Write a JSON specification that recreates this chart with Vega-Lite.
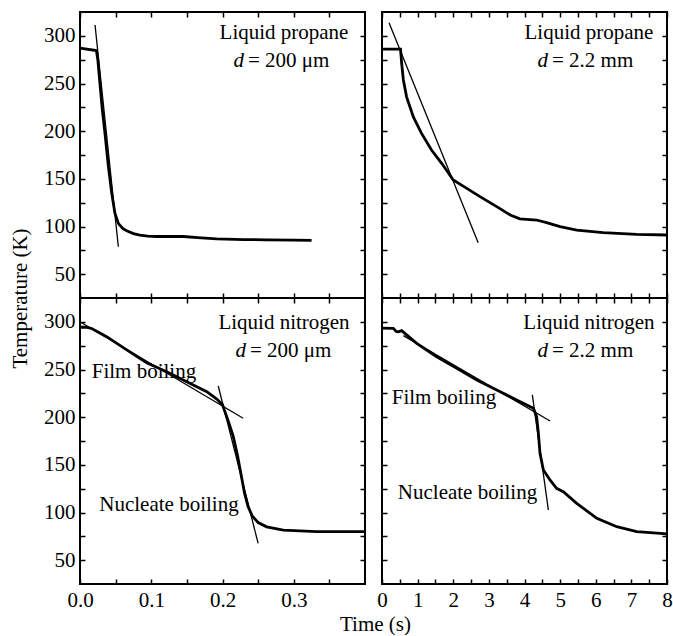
{
  "$schema": "https://vega.github.io/schema/vega-lite/v6.json",
  "padding": {"left": 8, "top": 10, "right": 0, "bottom": 0},
  "background": "white",
  "config": {
    "view": {"stroke": "black", "strokeWidth": 2},
    "axis": {
      "domain": false, "grid": false, "ticks": true, "tickSize": -5, "tickWidth": 1.5, "tickColor": "black",
      "labelFont": "Liberation Serif", "labelFontSize": 21, "labelColor": "black", "labelPadding": 10,
      "labelFlush": false, "labelOverlap": false,
      "titleFont": "Liberation Serif", "titleFontSize": 21, "titleFontWeight": "normal", "titleColor": "black"
    }
  },
  "datasets": {
    "curves": [
      {"p":"TL","s":"data","time":0,"temp":287},
      {"p":"TL","s":"data","time":0.023,"temp":284.5},
      {"p":"TL","s":"data","time":0.025,"temp":275},
      {"p":"TL","s":"data","time":0.028,"temp":250},
      {"p":"TL","s":"data","time":0.031,"temp":225},
      {"p":"TL","s":"data","time":0.035,"temp":198},
      {"p":"TL","s":"data","time":0.0398,"temp":163},
      {"p":"TL","s":"data","time":0.0445,"temp":135},
      {"p":"TL","s":"data","time":0.049,"temp":114},
      {"p":"TL","s":"data","time":0.054,"temp":103},
      {"p":"TL","s":"data","time":0.06,"temp":98},
      {"p":"TL","s":"data","time":0.0655,"temp":95.5},
      {"p":"TL","s":"data","time":0.075,"temp":92.5},
      {"p":"TL","s":"data","time":0.084,"temp":91},
      {"p":"TL","s":"data","time":0.095,"temp":90},
      {"p":"TL","s":"data","time":0.1076,"temp":89.5},
      {"p":"TL","s":"data","time":0.125,"temp":89.5},
      {"p":"TL","s":"data","time":0.145,"temp":89.5},
      {"p":"TL","s":"data","time":0.17,"temp":88},
      {"p":"TL","s":"data","time":0.192,"temp":87},
      {"p":"TL","s":"data","time":0.23,"temp":86.3},
      {"p":"TL","s":"data","time":0.262,"temp":86},
      {"p":"TL","s":"data","time":0.3,"temp":85.7},
      {"p":"TL","s":"data","time":0.325,"temp":85.5},
      {"p":"TL","s":"fit1","time":0.0211,"temp":311.4},
      {"p":"TL","s":"fit1","time":0.0538,"temp":78.8},

      {"p":"TR","s":"data","time":0,"temp":286},
      {"p":"TR","s":"data","time":0.52,"temp":286},
      {"p":"TR","s":"data","time":0.55,"temp":272},
      {"p":"TR","s":"data","time":0.6,"temp":253.7},
      {"p":"TR","s":"data","time":0.69,"temp":236},
      {"p":"TR","s":"data","time":0.88,"temp":215},
      {"p":"TR","s":"data","time":1.11,"temp":197.7},
      {"p":"TR","s":"data","time":1.39,"temp":180.2},
      {"p":"TR","s":"data","time":1.675,"temp":166.3},
      {"p":"TR","s":"data","time":2.0,"temp":148.8},
      {"p":"TR","s":"data","time":2.38,"temp":140},
      {"p":"TR","s":"data","time":2.75,"temp":131.3},
      {"p":"TR","s":"data","time":3.22,"temp":120.8},
      {"p":"TR","s":"data","time":3.6,"temp":112},
      {"p":"TR","s":"data","time":3.87,"temp":108},
      {"p":"TR","s":"data","time":4.34,"temp":106.8},
      {"p":"TR","s":"data","time":4.62,"temp":104},
      {"p":"TR","s":"data","time":5.0,"temp":99.8},
      {"p":"TR","s":"data","time":5.465,"temp":96.3},
      {"p":"TR","s":"data","time":6.21,"temp":93.5},
      {"p":"TR","s":"data","time":7.15,"temp":91.8},
      {"p":"TR","s":"data","time":8.0,"temp":91.1},
      {"p":"TR","s":"fit1","time":0.197,"temp":313.8},
      {"p":"TR","s":"fit1","time":2.7,"temp":83},

      {"p":"BL","s":"data","time":0,"temp":294.3},
      {"p":"BL","s":"data","time":0.008,"temp":294.5},
      {"p":"BL","s":"data","time":0.0164,"temp":293},
      {"p":"BL","s":"data","time":0.0374,"temp":284.4},
      {"p":"BL","s":"data","time":0.0655,"temp":270.5},
      {"p":"BL","s":"data","time":0.0936,"temp":257.1},
      {"p":"BL","s":"data","time":0.1216,"temp":247.7},
      {"p":"BL","s":"data","time":0.1497,"temp":237.2},
      {"p":"BL","s":"data","time":0.178,"temp":226.7},
      {"p":"BL","s":"data","time":0.192,"temp":219},
      {"p":"BL","s":"data","time":0.2,"temp":213},
      {"p":"BL","s":"data","time":0.208,"temp":196},
      {"p":"BL","s":"data","time":0.215,"temp":180},
      {"p":"BL","s":"data","time":0.221,"temp":160},
      {"p":"BL","s":"data","time":0.2265,"temp":138},
      {"p":"BL","s":"data","time":0.231,"temp":120},
      {"p":"BL","s":"data","time":0.236,"temp":106},
      {"p":"BL","s":"data","time":0.242,"temp":96},
      {"p":"BL","s":"data","time":0.25,"temp":89.5},
      {"p":"BL","s":"data","time":0.262,"temp":85},
      {"p":"BL","s":"data","time":0.2853,"temp":81.6},
      {"p":"BL","s":"data","time":0.332,"temp":79.9},
      {"p":"BL","s":"data","time":0.4,"temp":79.9},
      {"p":"BL","s":"fit1","time":0.0023,"temp":299.1},
      {"p":"BL","s":"fit1","time":0.229,"temp":198.8},
      {"p":"BL","s":"fit2","time":0.194,"temp":232.7},
      {"p":"BL","s":"fit2","time":0.25,"temp":67.7},

      {"p":"BR","s":"data","time":0,"temp":293.5},
      {"p":"BR","s":"data","time":0.317,"temp":293.2},
      {"p":"BR","s":"data","time":0.4,"temp":290},
      {"p":"BR","s":"data","time":0.458,"temp":289.5},
      {"p":"BR","s":"data","time":0.553,"temp":290.7},
      {"p":"BR","s":"data","time":0.7,"temp":286},
      {"p":"BR","s":"data","time":0.974,"temp":277.4},
      {"p":"BR","s":"data","time":1.535,"temp":263.4},
      {"p":"BR","s":"data","time":2.1,"temp":251.2},
      {"p":"BR","s":"data","time":2.66,"temp":239},
      {"p":"BR","s":"data","time":3.22,"temp":228.5},
      {"p":"BR","s":"data","time":3.78,"temp":218},
      {"p":"BR","s":"data","time":4.25,"temp":209.3},
      {"p":"BR","s":"data","time":4.34,"temp":200.5},
      {"p":"BR","s":"data","time":4.39,"temp":183},
      {"p":"BR","s":"data","time":4.435,"temp":162.1},
      {"p":"BR","s":"data","time":4.53,"temp":144.6},
      {"p":"BR","s":"data","time":4.716,"temp":134.1},
      {"p":"BR","s":"data","time":4.9,"temp":125.4},
      {"p":"BR","s":"data","time":5.09,"temp":121.8},
      {"p":"BR","s":"data","time":5.465,"temp":109.6},
      {"p":"BR","s":"data","time":6.03,"temp":93.9},
      {"p":"BR","s":"data","time":6.59,"temp":85.1},
      {"p":"BR","s":"data","time":7.15,"temp":79.9},
      {"p":"BR","s":"data","time":8.0,"temp":77.5},
      {"p":"BR","s":"fit1","time":0.6,"temp":285.5},
      {"p":"BR","s":"fit1","time":4.72,"temp":196},
      {"p":"BR","s":"fit2","time":4.22,"temp":223.3},
      {"p":"BR","s":"fit2","time":4.67,"temp":102.6}
    ],
    "labels": [
      {"p":"TL","kind":"plain","text":"Liquid propane","time":0.2863,"temp":296.7},
      {"p":"TL","kind":"d","text":"d","time":0.2302,"temp":267.3},
      {"p":"TL","kind":"rest","text":"= 200 μm","time":0.2302,"temp":267.3},
      {"p":"TR","kind":"plain","text":"Liquid propane","time":5.81,"temp":296.7},
      {"p":"TR","kind":"d","text":"d","time":4.66,"temp":267.3},
      {"p":"TR","kind":"rest","text":"= 2.2 mm","time":4.66,"temp":267.3},
      {"p":"BL","kind":"plain","text":"Liquid nitrogen","time":0.2863,"temp":292},
      {"p":"BL","kind":"d","text":"d","time":0.233,"temp":263.4},
      {"p":"BL","kind":"rest","text":"= 200 μm","time":0.233,"temp":263.4},
      {"p":"BL","kind":"plain","text":"Film boiling","time":0.0898,"temp":240.8},
      {"p":"BL","kind":"plain","text":"Nucleate boiling","time":0.1249,"temp":101.9},
      {"p":"BR","kind":"plain","text":"Liquid nitrogen","time":5.81,"temp":292},
      {"p":"BR","kind":"d","text":"d","time":4.66,"temp":263.4},
      {"p":"BR","kind":"rest","text":"= 2.2 mm","time":4.66,"temp":263.4},
      {"p":"BR","kind":"plain","text":"Film boiling","time":1.74,"temp":213.8},
      {"p":"BR","kind":"plain","text":"Nucleate boiling","time":2.4,"temp":113.8}
    ]
  },
  "bounds": "flush",
  "columns": 2,
  "spacing": {"row": 0, "column": 17},
  "concat": [
    {
      "width": 285, "height": 286,
      "layer": [
        {"data": {"name": "curves"}, "transform": [{"filter": "datum.p === 'TL' && datum.s === 'data'"}],
         "mark": {"type": "line", "color": "black", "strokeWidth": 2.8},
         "encoding": {
           "x": {"field": "time", "type": "quantitative", "scale": {"domain": [0, 0.4], "nice": false, "zero": false},
                 "axis": {"orient": "bottom", "values": [0,0.05,0.1,0.15,0.2,0.25,0.3,0.35], "labels": false, "title": null}},
           "y": {"field": "temp", "type": "quantitative", "scale": {"domain": [25, 325], "nice": false, "zero": false},
                 "axis": {"orient": "left", "values": [50,75,100,125,150,175,200,225,250,275,300], "labelExpr": "datum.value % 50 === 0 ? datum.label : ''",
                          "title": "Temperature (K)", "titleX": -60, "titleY": 286, "titleBaseline": "middle"}}
         }},
        {"data": {"name": "curves"}, "transform": [{"filter": "datum.p === 'TL' && datum.s !== 'data'"}],
         "mark": {"type": "line", "color": "black", "strokeWidth": 1.3},
         "encoding": {
           "x": {"field": "time", "type": "quantitative", "axis": {"orient": "top", "values": [0,0.05,0.1,0.15,0.2,0.25,0.3,0.35], "labels": false, "title": null}},
           "y": {"field": "temp", "type": "quantitative", "axis": {"orient": "right", "values": [50,75,100,125,150,175,200,225,250,275,300], "labels": false, "title": null}},
           "detail": {"field": "s"}
         }},
        {"data": {"name": "labels"}, "transform": [{"filter": "datum.p === 'TL' && datum.kind === 'plain'"}],
         "mark": {"type": "text", "font": "Liberation Serif", "fontSize": 21, "align": "center", "baseline": "alphabetic", "color": "black"},
         "encoding": {"x": {"field": "time", "type": "quantitative", "axis": null}, "y": {"field": "temp", "type": "quantitative", "axis": null}, "text": {"field": "text"}}},
        {"data": {"name": "labels"}, "transform": [{"filter": "datum.p === 'TL' && datum.kind === 'd'"}],
         "mark": {"type": "text", "font": "Liberation Serif", "fontSize": 21, "fontStyle": "italic", "align": "right", "baseline": "alphabetic", "color": "black"},
         "encoding": {"x": {"field": "time", "type": "quantitative", "axis": null}, "y": {"field": "temp", "type": "quantitative", "axis": null}, "text": {"field": "text"}}},
        {"data": {"name": "labels"}, "transform": [{"filter": "datum.p === 'TL' && datum.kind === 'rest'"}],
         "mark": {"type": "text", "font": "Liberation Serif", "fontSize": 21, "align": "left", "baseline": "alphabetic", "dx": 4, "color": "black"},
         "encoding": {"x": {"field": "time", "type": "quantitative", "axis": null}, "y": {"field": "temp", "type": "quantitative", "axis": null}, "text": {"field": "text"}}}
      ],
      "resolve": {"axis": {"x": "independent", "y": "independent"}}
    },
    {
      "width": 285, "height": 286,
      "layer": [
        {"data": {"name": "curves"}, "transform": [{"filter": "datum.p === 'TR' && datum.s === 'data'"}],
         "mark": {"type": "line", "color": "black", "strokeWidth": 2.8},
         "encoding": {
           "x": {"field": "time", "type": "quantitative", "scale": {"domain": [0, 8], "nice": false, "zero": false},
                 "axis": {"orient": "bottom", "values": [0,0.5,1,1.5,2,2.5,3,3.5,4,4.5,5,5.5,6,6.5,7,7.5,8], "labels": false, "title": null}},
           "y": {"field": "temp", "type": "quantitative", "scale": {"domain": [25, 325], "nice": false, "zero": false},
                 "axis": {"orient": "left", "values": [50,75,100,125,150,175,200,225,250,275,300], "labels": false, "title": null}}
         }},
        {"data": {"name": "curves"}, "transform": [{"filter": "datum.p === 'TR' && datum.s !== 'data'"}],
         "mark": {"type": "line", "color": "black", "strokeWidth": 1.3},
         "encoding": {
           "x": {"field": "time", "type": "quantitative", "axis": {"orient": "top", "values": [0,0.5,1,1.5,2,2.5,3,3.5,4,4.5,5,5.5,6,6.5,7,7.5,8], "labels": false, "title": null}},
           "y": {"field": "temp", "type": "quantitative", "axis": {"orient": "right", "values": [50,75,100,125,150,175,200,225,250,275,300], "labels": false, "title": null}},
           "detail": {"field": "s"}
         }},
        {"data": {"name": "labels"}, "transform": [{"filter": "datum.p === 'TR' && datum.kind === 'plain'"}],
         "mark": {"type": "text", "font": "Liberation Serif", "fontSize": 21, "align": "center", "baseline": "alphabetic", "color": "black"},
         "encoding": {"x": {"field": "time", "type": "quantitative", "axis": null}, "y": {"field": "temp", "type": "quantitative", "axis": null}, "text": {"field": "text"}}},
        {"data": {"name": "labels"}, "transform": [{"filter": "datum.p === 'TR' && datum.kind === 'd'"}],
         "mark": {"type": "text", "font": "Liberation Serif", "fontSize": 21, "fontStyle": "italic", "align": "right", "baseline": "alphabetic", "color": "black"},
         "encoding": {"x": {"field": "time", "type": "quantitative", "axis": null}, "y": {"field": "temp", "type": "quantitative", "axis": null}, "text": {"field": "text"}}},
        {"data": {"name": "labels"}, "transform": [{"filter": "datum.p === 'TR' && datum.kind === 'rest'"}],
         "mark": {"type": "text", "font": "Liberation Serif", "fontSize": 21, "align": "left", "baseline": "alphabetic", "dx": 4, "color": "black"},
         "encoding": {"x": {"field": "time", "type": "quantitative", "axis": null}, "y": {"field": "temp", "type": "quantitative", "axis": null}, "text": {"field": "text"}}}
      ],
      "resolve": {"axis": {"x": "independent", "y": "independent"}}
    },
    {
      "width": 285, "height": 286,
      "layer": [
        {"data": {"name": "curves"}, "transform": [{"filter": "datum.p === 'BL' && datum.s === 'data'"}],
         "mark": {"type": "line", "color": "black", "strokeWidth": 2.8},
         "encoding": {
           "x": {"field": "time", "type": "quantitative", "scale": {"domain": [0, 0.4], "nice": false, "zero": false},
                 "axis": {"orient": "bottom", "values": [0,0.05,0.1,0.15,0.2,0.25,0.3,0.35],
                          "labelExpr": "abs(datum.value * 10 - round(datum.value * 10)) < 0.001 ? format(datum.value, '.1f') : ''",
                          "title": "Time (s)", "titleX": 295, "titleY": 40, "titleBaseline": "middle"}},
           "y": {"field": "temp", "type": "quantitative", "scale": {"domain": [25, 325], "nice": false, "zero": false},
                 "axis": {"orient": "left", "values": [50,75,100,125,150,175,200,225,250,275,300], "labelExpr": "datum.value % 50 === 0 ? datum.label : ''", "title": null}}
         }},
        {"data": {"name": "curves"}, "transform": [{"filter": "datum.p === 'BL' && datum.s !== 'data'"}],
         "mark": {"type": "line", "color": "black", "strokeWidth": 1.3},
         "encoding": {
           "x": {"field": "time", "type": "quantitative", "axis": {"orient": "top", "values": [0,0.05,0.1,0.15,0.2,0.25,0.3,0.35], "labels": false, "title": null}},
           "y": {"field": "temp", "type": "quantitative", "axis": {"orient": "right", "values": [50,75,100,125,150,175,200,225,250,275,300], "labels": false, "title": null}},
           "detail": {"field": "s"}
         }},
        {"data": {"name": "labels"}, "transform": [{"filter": "datum.p === 'BL' && datum.kind === 'plain'"}],
         "mark": {"type": "text", "font": "Liberation Serif", "fontSize": 21, "align": "center", "baseline": "alphabetic", "color": "black"},
         "encoding": {"x": {"field": "time", "type": "quantitative", "axis": null}, "y": {"field": "temp", "type": "quantitative", "axis": null}, "text": {"field": "text"}}},
        {"data": {"name": "labels"}, "transform": [{"filter": "datum.p === 'BL' && datum.kind === 'd'"}],
         "mark": {"type": "text", "font": "Liberation Serif", "fontSize": 21, "fontStyle": "italic", "align": "right", "baseline": "alphabetic", "color": "black"},
         "encoding": {"x": {"field": "time", "type": "quantitative", "axis": null}, "y": {"field": "temp", "type": "quantitative", "axis": null}, "text": {"field": "text"}}},
        {"data": {"name": "labels"}, "transform": [{"filter": "datum.p === 'BL' && datum.kind === 'rest'"}],
         "mark": {"type": "text", "font": "Liberation Serif", "fontSize": 21, "align": "left", "baseline": "alphabetic", "dx": 4, "color": "black"},
         "encoding": {"x": {"field": "time", "type": "quantitative", "axis": null}, "y": {"field": "temp", "type": "quantitative", "axis": null}, "text": {"field": "text"}}}
      ],
      "resolve": {"axis": {"x": "independent", "y": "independent"}}
    },
    {
      "width": 285, "height": 286,
      "layer": [
        {"data": {"name": "curves"}, "transform": [{"filter": "datum.p === 'BR' && datum.s === 'data'"}],
         "mark": {"type": "line", "color": "black", "strokeWidth": 2.8},
         "encoding": {
           "x": {"field": "time", "type": "quantitative", "scale": {"domain": [0, 8], "nice": false, "zero": false},
                 "axis": {"orient": "bottom", "values": [0,0.5,1,1.5,2,2.5,3,3.5,4,4.5,5,5.5,6,6.5,7,7.5,8], "labelExpr": "datum.value % 1 === 0 ? format(datum.value, 'd') : ''", "title": null}},
           "y": {"field": "temp", "type": "quantitative", "scale": {"domain": [25, 325], "nice": false, "zero": false},
                 "axis": {"orient": "left", "values": [50,75,100,125,150,175,200,225,250,275,300], "labels": false, "title": null}}
         }},
        {"data": {"name": "curves"}, "transform": [{"filter": "datum.p === 'BR' && datum.s !== 'data'"}],
         "mark": {"type": "line", "color": "black", "strokeWidth": 1.3},
         "encoding": {
           "x": {"field": "time", "type": "quantitative", "axis": {"orient": "top", "values": [0,0.5,1,1.5,2,2.5,3,3.5,4,4.5,5,5.5,6,6.5,7,7.5,8], "labels": false, "title": null}},
           "y": {"field": "temp", "type": "quantitative", "axis": {"orient": "right", "values": [50,75,100,125,150,175,200,225,250,275,300], "labels": false, "title": null}},
           "detail": {"field": "s"}
         }},
        {"data": {"name": "labels"}, "transform": [{"filter": "datum.p === 'BR' && datum.kind === 'plain'"}],
         "mark": {"type": "text", "font": "Liberation Serif", "fontSize": 21, "align": "center", "baseline": "alphabetic", "color": "black"},
         "encoding": {"x": {"field": "time", "type": "quantitative", "axis": null}, "y": {"field": "temp", "type": "quantitative", "axis": null}, "text": {"field": "text"}}},
        {"data": {"name": "labels"}, "transform": [{"filter": "datum.p === 'BR' && datum.kind === 'd'"}],
         "mark": {"type": "text", "font": "Liberation Serif", "fontSize": 21, "fontStyle": "italic", "align": "right", "baseline": "alphabetic", "color": "black"},
         "encoding": {"x": {"field": "time", "type": "quantitative", "axis": null}, "y": {"field": "temp", "type": "quantitative", "axis": null}, "text": {"field": "text"}}},
        {"data": {"name": "labels"}, "transform": [{"filter": "datum.p === 'BR' && datum.kind === 'rest'"}],
         "mark": {"type": "text", "font": "Liberation Serif", "fontSize": 21, "align": "left", "baseline": "alphabetic", "dx": 4, "color": "black"},
         "encoding": {"x": {"field": "time", "type": "quantitative", "axis": null}, "y": {"field": "temp", "type": "quantitative", "axis": null}, "text": {"field": "text"}}}
      ],
      "resolve": {"axis": {"x": "independent", "y": "independent"}}
    }
  ]
}
